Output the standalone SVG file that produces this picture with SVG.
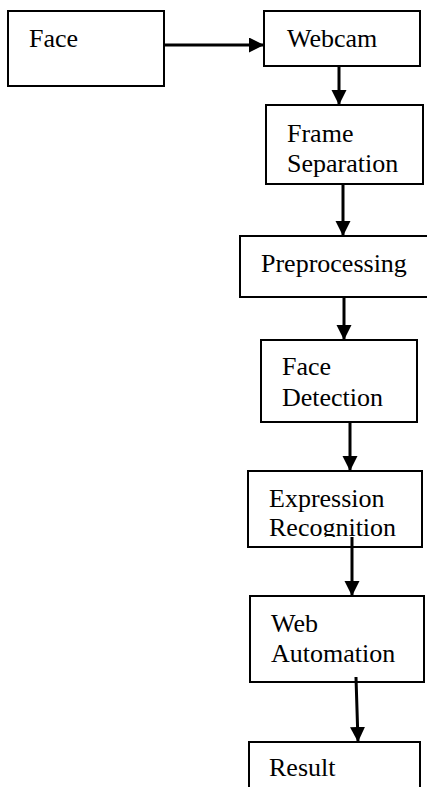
<svg xmlns="http://www.w3.org/2000/svg" width="427" height="787" viewBox="0 0 427 787">
<style>
.box{fill:#fff;stroke:#000;stroke-width:2}
.t{font-family:"Liberation Serif","Times New Roman",serif;font-size:26px;fill:#000}
.c{stroke:#000;stroke-width:3;fill:none;marker-end:url(#ah)}
</style>
<defs>
<marker id="ah" markerUnits="userSpaceOnUse" markerWidth="16" markerHeight="16" refX="15" refY="7.5" orient="auto">
<path d="M0,0 L15,7.5 L0,15 z" fill="#000"/>
</marker>
<clipPath id="clipExpr"><rect x="248" y="471" width="174" height="66"/></clipPath>
</defs>
<rect width="427" height="787" fill="#fff"/>
<g id="face"><rect class="box" x="8" y="11" width="156" height="75"/><text class="t" x="29" y="47">Face</text></g>
<g id="webcam"><rect class="box" x="264" y="11" width="156" height="55"/><text class="t" x="287" y="47">Webcam</text></g>
<g id="frame-separation"><rect class="box" x="266" y="105" width="157" height="79"/><text class="t" x="287" y="142">Frame</text><text class="t" x="287" y="172">Separation</text></g>
<g id="preprocessing"><rect class="box" x="240" y="236" width="190" height="61"/><text class="t" x="261" y="272">Preprocessing</text></g>
<g id="face-detection"><rect class="box" x="261" y="340" width="156" height="82"/><text class="t" x="282" y="375">Face</text><text class="t" x="282" y="406">Detection</text></g>
<g id="expression-recognition"><rect class="box" x="248" y="471" width="174" height="76"/><text class="t" x="269" y="507">Expression</text><text class="t" x="269" y="536" clip-path="url(#clipExpr)">Recognition</text></g>
<g id="web-automation"><rect class="box" x="250" y="596" width="174" height="86"/><text class="t" x="271" y="632">Web</text><text class="t" x="271" y="662">Automation</text></g>
<g id="result"><rect class="box" x="249" y="742" width="171" height="60"/><text class="t" x="269" y="776">Result</text></g>
<g id="connectors">
<line class="c" x1="164" y1="45" x2="264" y2="45"/>
<line class="c" x1="339" y1="66" x2="339" y2="105"/>
<line class="c" x1="343" y1="184" x2="343" y2="236"/>
<line class="c" x1="344" y1="297" x2="344" y2="340"/>
<line class="c" x1="350" y1="422" x2="350" y2="471"/>
<line class="c" x1="352" y1="537" x2="352" y2="596"/>
<line class="c" x1="356" y1="677" x2="358" y2="742"/>
</g>
</svg>
